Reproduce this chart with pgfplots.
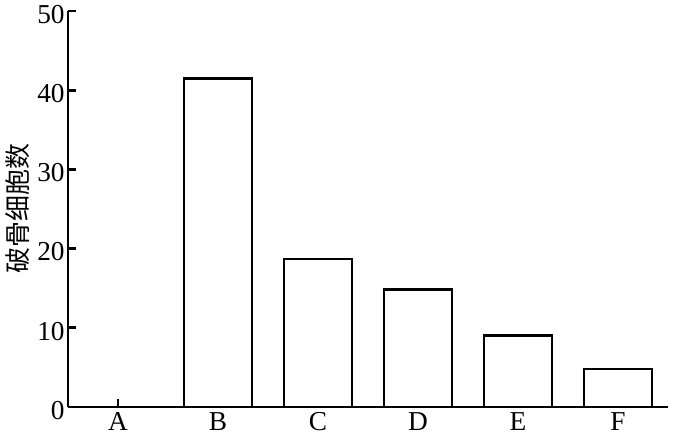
\documentclass[border=0pt]{standalone}
\usepackage{fontspec}
\setmainfont{Liberation Serif}
\newfontfamily\cjk{Noto Sans CJK SC}
\usepackage{pgfplots}
\pgfplotsset{compat=1.18}
\usetikzlibrary{calc}

% 1 px of the reference = 0.75pt
\begin{document}
\begin{tikzpicture}
\begin{axis}[
  scale only axis, width=450pt, height=297pt,
  axis lines*=left,
  axis line style={line width=2pt, black},
  xmin=-0.5, xmax=5.5, ymin=0, ymax=50,
  ybar, bar width=0.68,
  xtick={0,1,2,3,4,5}, xticklabels={A,B,C,D,E,F},
  ytick={0,10,20,30,40,50},
  tick align=inside, major tick length=6pt,
  tick style={line width=2pt, black},
  /pgf/number format/assume math mode=true,
  tick label style={font=\fontsize{20.5}{23}\selectfont, black},
  yticklabel style={xshift=1pt, yshift=-2.5pt},
  xticklabel style={yshift=-0.5pt},
  ylabel={\cjk 破骨细胞数},
  ylabel style={font=\fontsize{19.5}{22}\selectfont, yshift=-1pt},
]
  \coordinate (O) at (rel axis cs:0,0);
  \coordinate (T) at (rel axis cs:1,1);
  \addplot[draw=black, fill=white, line width=2pt] coordinates
    {(0,0) (1,41.5) (2,18.7) (3,14.8) (4,9.0) (5,4.8)};
\end{axis}
\pgfresetboundingbox
\path[use as bounding box] ($(O)+(-51pt,-22.5pt)$) rectangle ($(T)+(4.5pt,8.25pt)$);
\end{tikzpicture}
\end{document}
